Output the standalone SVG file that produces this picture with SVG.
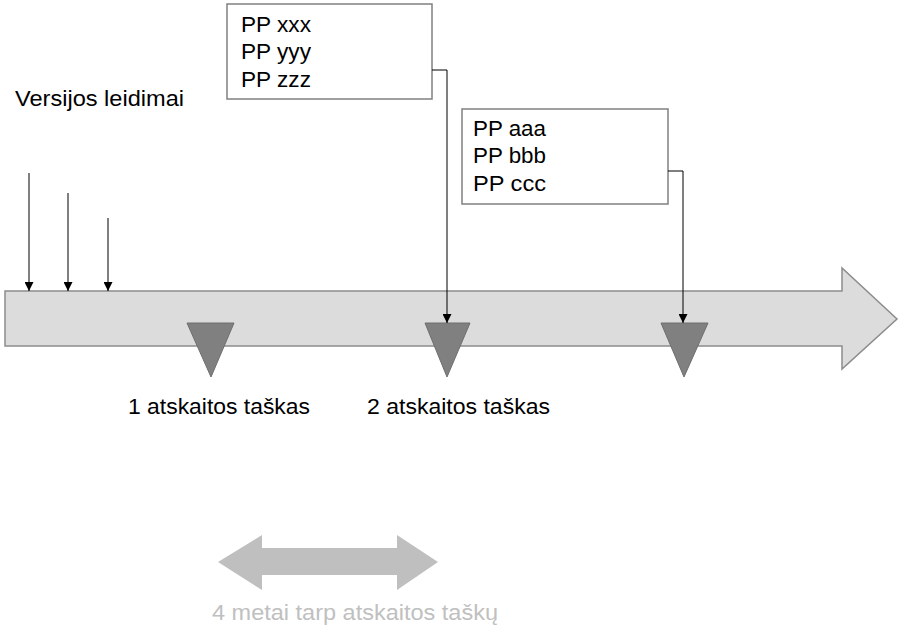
<svg xmlns="http://www.w3.org/2000/svg" width="907" height="639" viewBox="0 0 907 639">
<defs>
<style>
text{font-family:"Liberation Sans",Arial,sans-serif;font-size:22.5px;fill:#000}
.box{fill:#fff;stroke:#808080;stroke-width:1.5}
.tri{fill:#808080;stroke:#6e6e6e;stroke-width:1}
.conn{fill:none;stroke:#000;stroke-width:1}
.grey{fill:#c0c0c0}
</style>
<marker id="ah" viewBox="0 0 10 10" refX="10" refY="5" markerWidth="11" markerHeight="9" markerUnits="userSpaceOnUse" orient="auto">
<path d="M0,0 L10,5 L0,10 z" fill="#000"/>
</marker>
</defs>
<rect width="907" height="639" fill="#fff"/>
<g id="timeline">
<path d="M5,291 L842,291 L842,268 L897,319 L842,369 L842,346 L5,346 z" fill="#dcdcdc" stroke="#8c8c8c" stroke-width="1.5"/>
</g>
<g id="point1">
<path class="tri" d="M187,323 L234,323 L211,377 z"/>
<text x="128" y="414" textLength="182" lengthAdjust="spacingAndGlyphs">1 atskaitos taškas</text>
</g>
<g id="point2">
<path class="tri" d="M425,323 L470,323 L447,377 z"/>
<text x="367" y="414" textLength="183" lengthAdjust="spacingAndGlyphs">2 atskaitos taškas</text>
</g>
<g id="point3">
<path class="tri" d="M661,323 L708,323 L684,377 z"/>
</g>
<g id="versions">
<text x="15" y="106" textLength="169" lengthAdjust="spacingAndGlyphs">Versijos leidimai</text>
</g>
<g id="box1">
<rect class="box" x="227" y="4" width="205" height="95"/>
<text x="241" y="32" textLength="70" lengthAdjust="spacingAndGlyphs">PP xxx</text>
<text x="241" y="59" textLength="70" lengthAdjust="spacingAndGlyphs">PP yyy</text>
<text x="241" y="87" textLength="70" lengthAdjust="spacingAndGlyphs">PP zzz</text>
</g>
<g id="box2">
<rect class="box" x="462" y="109" width="206" height="95"/>
<text x="473" y="136" textLength="73" lengthAdjust="spacingAndGlyphs">PP aaa</text>
<text x="473" y="163" textLength="73" lengthAdjust="spacingAndGlyphs">PP bbb</text>
<text x="473" y="191" textLength="73" lengthAdjust="spacingAndGlyphs">PP ccc</text>
</g>
<g id="interval">
<path d="M218,562 L262,535 L262,548 L397,548 L397,535 L438,562 L397,590 L397,575 L262,575 L262,590 z" fill="#bfbfbf"/>
<text class="grey" x="212" y="620" textLength="286" lengthAdjust="spacingAndGlyphs">4 metai tarp atskaitos taškų</text>
</g>
<g id="connectors">
<path class="conn" d="M29,173 L29,291" marker-end="url(#ah)"/>
<path class="conn" d="M68,193 L68,291" marker-end="url(#ah)"/>
<path class="conn" d="M108,218 L108,291" marker-end="url(#ah)"/>
<path class="conn" d="M432,70 L447,70 L447,323" marker-end="url(#ah)"/>
<path class="conn" d="M668,171 L683,171 L683,323" marker-end="url(#ah)"/>
</g>
</svg>
